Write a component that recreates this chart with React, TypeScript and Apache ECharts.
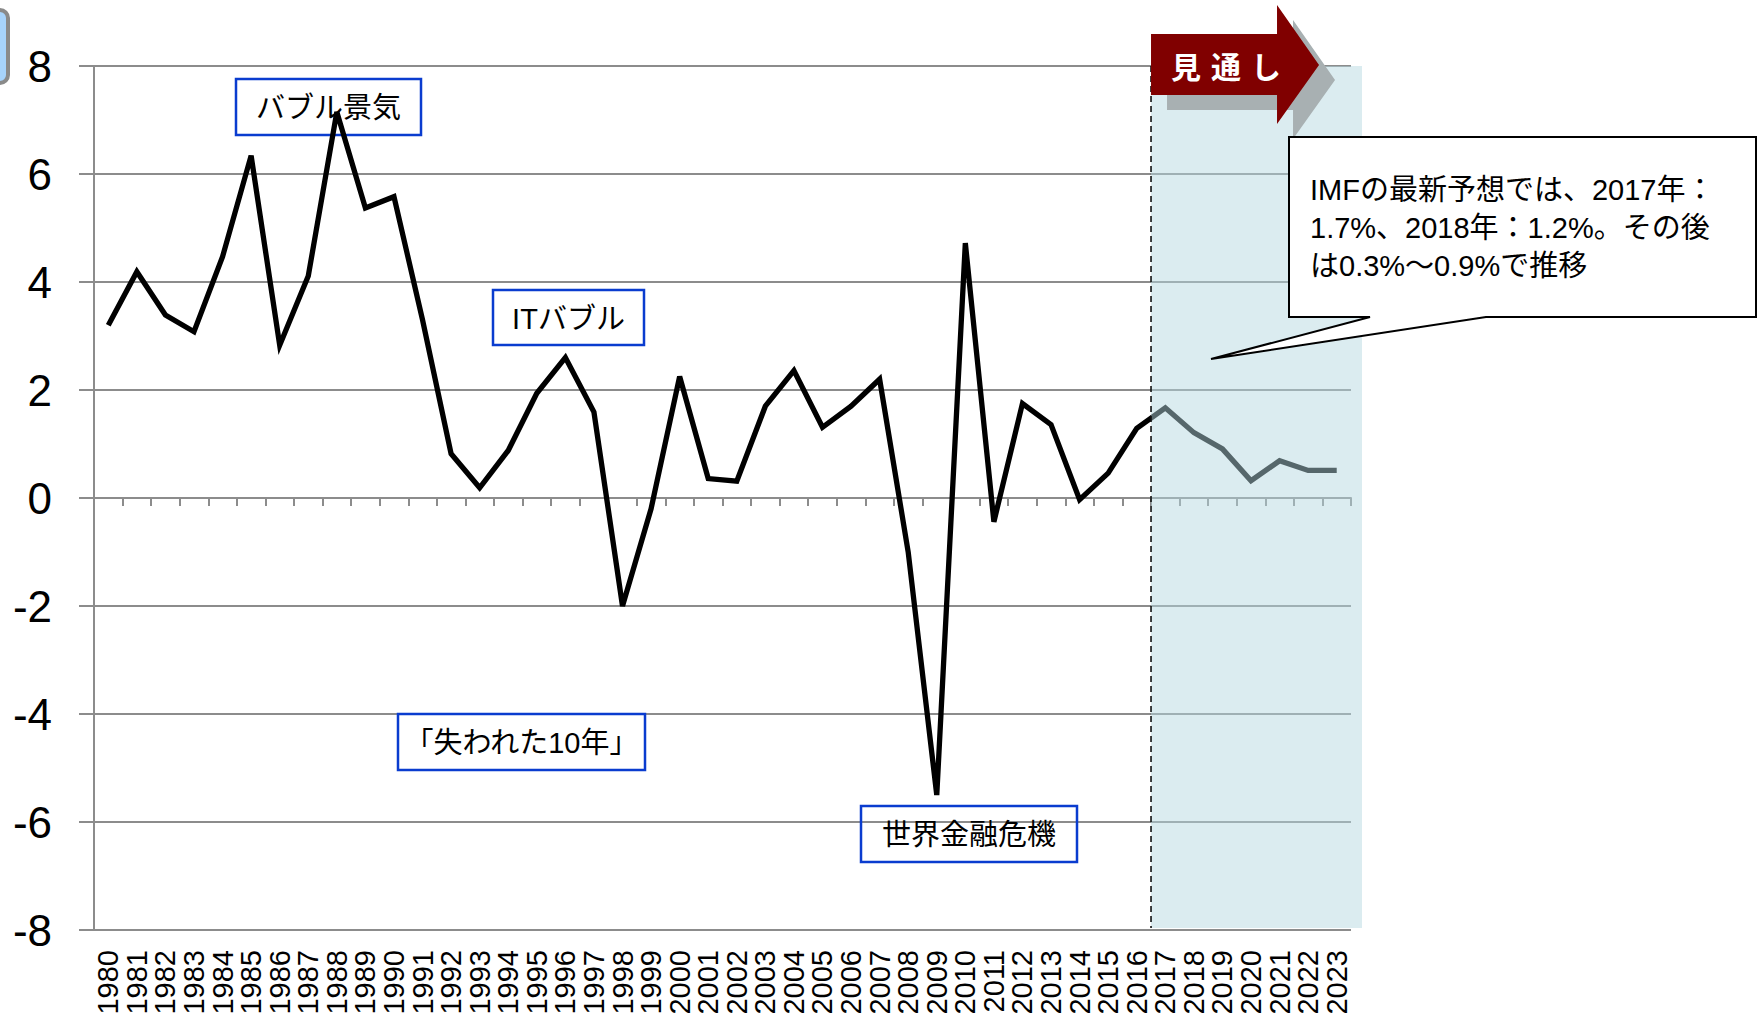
import React, { useEffect, useRef } from "react";
import * as echarts from "echarts";

const years = [
  "1980", "1981", "1982", "1983", "1984", "1985", "1986", "1987", "1988", "1989",
  "1990", "1991", "1992", "1993", "1994", "1995", "1996", "1997", "1998", "1999",
  "2000", "2001", "2002", "2003", "2004", "2005", "2006", "2007", "2008", "2009",
  "2010", "2011", "2012", "2013", "2014", "2015", "2016", "2017", "2018", "2019",
  "2020", "2021", "2022", "2023",
];

const growth = [
  3.2, 4.19, 3.39, 3.08, 4.47, 6.34, 2.83, 4.11, 7.15, 5.37,
  5.58, 3.3, 0.82, 0.19, 0.88, 1.94, 2.6, 1.59, -2.0, -0.2,
  2.25, 0.36, 0.31, 1.7, 2.36, 1.31, 1.7, 2.2, -1.0, -5.5,
  4.72, -0.44, 1.75, 1.36, -0.03, 0.46, 1.29, 1.67, 1.21, 0.91,
  0.32, 0.69, 0.51, 0.51,
];

const yMin = -8;
const yMax = 8;
const yStep = 2;

const forecastStart = "2017";
const forecastLabel = ["見", "通", "し"];
const calloutLines = [
  "IMFの最新予想では、2017年：",
  "1.7%、2018年：1.2%。その後",
  "は0.3%～0.9%で推移",
];
const eventLabels = ["バブル景気", "ITバブル", "「失われた10年」", "世界金融危機"];

const W = 1758;
const H = 1021;
const FONT = "'Liberation Sans', Arial, 'Noto Sans CJK JP', sans-serif";

export default function App() {
  const ref = useRef<HTMLDivElement>(null);

  useEffect(() => {
    document.body.style.margin = "0";
    const chart = echarts.init(ref.current!, null, { renderer: "svg", width: W, height: H });
    const gridColor = "#8c8c8c";

    chart.setOption({
      animation: false,
      backgroundColor: "#ffffff",
      grid: { left: 94, right: 407, top: 66, bottom: 91, outerBoundsMode: "none" },
      xAxis: [
        {
          type: "category",
          data: years,
          boundaryGap: true,
          position: "bottom",
          axisLine: { show: true, onZero: true, lineStyle: { color: gridColor, width: 2 } },
          axisTick: { show: true, interval: 0, length: 8, lineStyle: { color: gridColor, width: 2 } },
          axisLabel: { show: false, interval: 0 },
          splitLine: { show: false },
        },
        {
          type: "category",
          data: years,
          boundaryGap: true,
          position: "bottom",
          axisLine: { show: false, onZero: false },
          axisTick: { show: false },
          splitLine: { show: false },
          axisLabel: {
            show: true,
            interval: 0,
            rotate: 90,
            margin: 20,
            fontSize: 29,
            color: "#000",
            fontFamily: FONT,
          },
        },
      ],
      yAxis: {
        type: "value",
        min: yMin,
        max: yMax,
        interval: yStep,
        axisLine: { show: true, lineStyle: { color: gridColor, width: 2 } },
        axisTick: { show: true, length: 15, lineStyle: { color: gridColor, width: 2 } },
        splitLine: { show: true, lineStyle: { color: gridColor, width: 2 } },
        axisLabel: { fontSize: 44, color: "#000", margin: 42, fontFamily: FONT },
      },
      series: [
        {
          type: "line",
          data: growth,
          xAxisIndex: 0,
          yAxisIndex: 0,
          symbol: "none",
          z: 3,
          lineStyle: { color: "#000", width: 5.3, join: "miter" },
        },
      ],
    });

    const px = (c: string) => chart.convertToPixel({ xAxisIndex: 0 }, c) as number;
    const py = (v: number) => chart.convertToPixel({ yAxisIndex: 0 }, v) as number;
    const band = px(years[1]) - px(years[0]);
    const xF = px(forecastStart) - band / 2;
    const xEnd = px(years[years.length - 1]) + band / 2;
    const yTop = py(yMax);
    const yBot = py(yMin);

    const arrowPts = (dx: number, dy: number) => [
      [xF + dx, yTop - 32 + dy],
      [xF + 126 + dx, yTop - 32 + dy],
      [xF + 126 + dx, yTop - 61 + dy],
      [xF + 168 + dx, yTop - 1 + dy],
      [xF + 126 + dx, yTop + 58 + dy],
      [xF + 126 + dx, yTop + 29 + dy],
      [xF + dx, yTop + 29 + dy],
    ];

    const boxes = [
      { x: 236, y: 79, w: 185, h: 56 },
      { x: 493, y: 290, w: 151, h: 55 },
      { x: 398, y: 714, w: 247, h: 56 },
      { x: 861, y: 806, w: 216, h: 56 },
    ];

    const graphics: any[] = [
      {
        type: "rect",
        shape: { x: -20, y: 10, width: 28, height: 73, r: 8 },
        style: { fill: "#a7d3fb", stroke: "#8a8a8a", lineWidth: 4 },
        z: 20,
      },
      {
        type: "rect",
        shape: { x: xF, y: yTop, width: xEnd + 11 - xF, height: yBot - yTop - 2 },
        style: { fill: "rgba(179,215,223,0.48)" },
        z: 10,
      },
      {
        type: "line",
        shape: { x1: xF, y1: yTop, x2: xF, y2: yBot - 2 },
        style: { stroke: "#111", lineWidth: 1.6, lineDash: [6, 4] },
        z: 11,
      },
      {
        type: "polygon",
        shape: { points: arrowPts(16, 15) },
        style: { fill: "#a8b0b2" },
        z: 12,
      },
      {
        type: "polygon",
        shape: { points: arrowPts(0, 0) },
        style: { fill: "#800000" },
        z: 13,
      },
      ...forecastLabel.map((t, i) => ({
        type: "text",
        x: xF + 35 + i * 40,
        y: yTop - 1,
        style: {
          text: t,
          fill: "#fff",
          fontSize: 30,
          fontWeight: "bold",
          fontFamily: "'Noto Sans CJK JP', sans-serif",
          align: "center",
          verticalAlign: "middle",
        },
        z: 14,
      })),
      {
        type: "polygon",
        shape: {
          points: [
            [1289, 137], [1756, 137], [1756, 317], [1486, 317],
            [1211, 359], [1370, 317], [1289, 317],
          ],
        },
        style: { fill: "#fff", stroke: "#000", lineWidth: 2 },
        z: 15,
      },
      {
        type: "text",
        x: 1310,
        y: 171,
        style: {
          text: calloutLines.join("\n"),
          fill: "#000",
          fontSize: 29,
          lineHeight: 38,
          fontFamily: FONT,
          align: "left",
          verticalAlign: "top",
        },
        z: 16,
      },
      ...boxes.map((b) => ({
        type: "rect",
        shape: { x: b.x, y: b.y, width: b.w, height: b.h },
        style: { fill: "rgba(255,255,255,0)", stroke: "#0a3ccf", lineWidth: 2.5 },
        z: 1,
      })),
      ...boxes.map((b, i) => ({
        type: "text",
        x: b.x + b.w / 2,
        y: b.y + b.h / 2 + 1,
        style: {
          text: eventLabels[i],
          fill: "#000",
          fontSize: 29,
          fontFamily: FONT,
          align: "center",
          verticalAlign: "middle",
        },
        z: 2,
      })),
    ];

    chart.setOption({ graphic: graphics });

    return () => chart.dispose();
  }, []);

  return (
    <div
      ref={ref}
      style={{ position: "absolute", left: 0, top: 0, width: W, height: H, background: "#fff" }}
    />
  );
}
